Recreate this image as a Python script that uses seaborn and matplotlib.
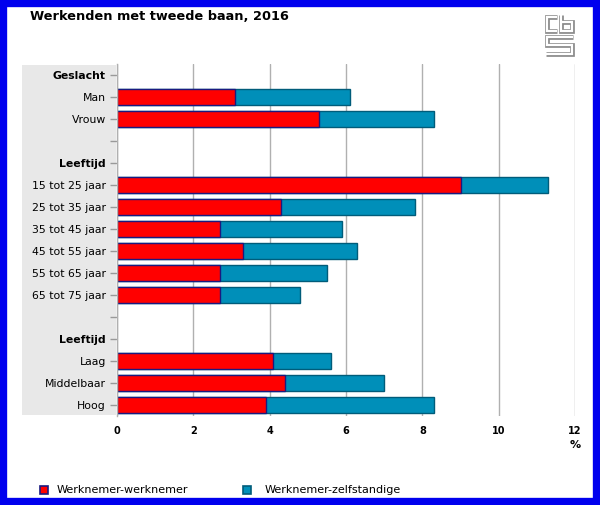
import matplotlib
matplotlib.use("Agg")
import matplotlib.pyplot as plt
import matplotlib.patheffects as pe
from matplotlib.lines import Line2D
import seaborn as sns
import pandas as pd
import numpy as np
from matplotlib.patches import Rectangle

sns.set_theme(style="white")
plt.rcParams['font.family'] = ['DejaVu Sans']
plt.rcParams['text.color'] = 'black'
plt.rcParams['xtick.color'] = 'black'
plt.rcParams['ytick.color'] = 'black'

keys = ["h1", "Man", "Vrouw", "b1", "h2", "15-25", "25-35", "35-45", "45-55",
        "55-65", "65-75", "b2", "h3", "Laag", "Middelbaar", "Hoog"]
labels = ["Geslacht", "Man", "Vrouw", "", "Leeftijd", "15 tot 25 jaar", "25 tot 35 jaar",
          "35 tot 45 jaar", "45 tot 55 jaar", "55 tot 65 jaar", "65 tot 75 jaar", "",
          "Leeftijd", "Laag", "Middelbaar", "Hoog"]
headers = ["Geslacht", "Leeftijd"]
werknemer = [np.nan, 3.1, 5.3, np.nan, np.nan, 9.0, 4.3, 2.7, 3.3, 2.7, 2.7, np.nan, np.nan, 4.1, 4.4, 3.9]
zelfstandige = [np.nan, 3.0, 3.0, np.nan, np.nan, 2.3, 3.5, 3.2, 3.0, 2.8, 2.1, np.nan, np.nan, 1.5, 2.6, 4.4]
series_names = ["Werknemer-werknemer", "Werknemer-zelfstandige"]
xticks = [0, 2, 4, 6, 8, 10, 12]

red = "#ff0000"
blue = "#008fb9"

df = pd.DataFrame({"key": keys, "ww": werknemer, "wz": zelfstandige})
df["total"] = df["ww"] + df["wz"]

fig = plt.figure(figsize=(6.0, 5.05), dpi=100)
fig.patch.set_facecolor("white")
# blue frame
fig.patches.append(Rectangle((0.005, 0.006), 0.99, 0.988, transform=fig.transFigure,
                             fill=False, edgecolor="#0000ee", linewidth=6, zorder=-1))
# gray label panel
fig.patches.append(Rectangle((22/600, 1-415/505), (116-22)/600, (415-65)/505,
                             transform=fig.transFigure, facecolor="#e8e8e8",
                             edgecolor="none", zorder=-1))

ax = fig.add_axes([117/600, 1-416/505, (575-117)/600, (416-64)/505])
ax.set_facecolor("none")

sns.barplot(data=df, x="total", y="key", order=keys, orient="h", color=blue,
            edgecolor="#005c7a", linewidth=1.0, width=0.72, ax=ax, saturation=1)
sns.barplot(data=df, x="ww", y="key", order=keys, orient="h", color=red,
            edgecolor="#1a1a80", linewidth=1.0, width=0.72, ax=ax, saturation=1)

ax.set_xlim(0, 12)
ax.set_ylim(len(keys) - 0.5, -0.5)
ax.set_xticks(xticks)
ax.set_xticklabels([str(t) for t in xticks], fontsize=7, fontweight="bold")
ax.set_yticks(range(len(keys)))
ax.set_yticklabels(labels, fontsize=7.8)
for t in ax.get_yticklabels():
    if t.get_text() in headers:
        t.set_fontweight("bold")
ax.set_xlabel("")
ax.set_ylabel("")
ax.grid(axis="x", color="#b0b0b0", linewidth=1)
ax.set_axisbelow(True)
for s in ["top", "right", "bottom"]:
    ax.spines[s].set_visible(False)
ax.spines["left"].set_color("#b0b0b0")
ax.spines["left"].set_linewidth(1)
ax.tick_params(axis="y", length=5, color="#999999", width=1, pad=3, left=True)
ax.tick_params(axis="x", length=0, pad=7)

fig.text(575/600, 1-445/505, "%", ha="center", va="center", fontsize=8, fontweight="bold")

fig.text(30/600, 1-17/505, "Werkenden met tweede baan, 2016", ha="left", va="center",
         fontsize=9.3, fontweight="bold")

# cbs logo (outlined strokes)
def logo_stroke(xs, ys):
    ln = Line2D([x/600 for x in xs], [1 - y/505 for y in ys], transform=fig.transFigure,
                color="white", linewidth=1.6, solid_joinstyle="miter",
                solid_capstyle="butt",
                path_effects=[pe.Stroke(linewidth=3.4, foreground="#8a8a8a"), pe.Normal()])
    fig.add_artist(ln)

logo_stroke([557, 547, 547, 557], [17, 17, 31, 31])           # c
logo_stroke([561, 561, 572, 572, 561], [15, 31, 31, 22, 22])  # b
logo_stroke([573, 547, 547, 572, 572, 546], [37, 37, 45, 45, 54, 54])  # s

# legend
for xm, xt, c, ec, name in [(44, 57, red, "#1a1a80", series_names[0]),
                            (247, 265, blue, "#005c7a", series_names[1])]:
    fig.patches.append(Rectangle((xm/600 - 4/600, 1-494/505), 8/600, 8/505,
                                 transform=fig.transFigure, facecolor=c, edgecolor=ec,
                                 linewidth=1.2))
    fig.text(xt/600, 1-490/505, name, ha="left", va="center", fontsize=8)

fig.savefig("out.png", dpi=100)
